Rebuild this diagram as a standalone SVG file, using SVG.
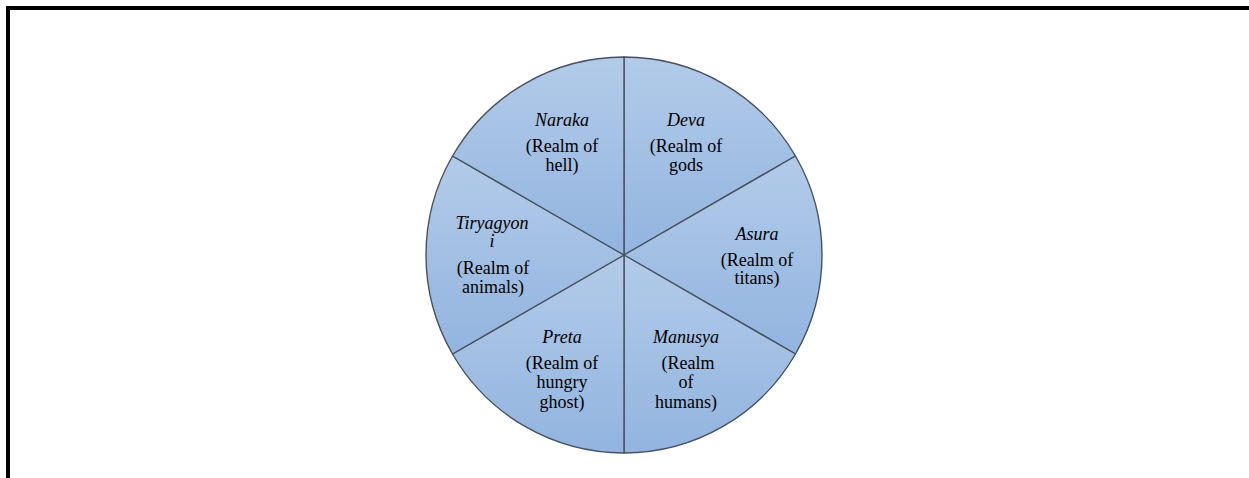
<svg xmlns="http://www.w3.org/2000/svg" width="1249" height="478" viewBox="0 0 1249 478">
  <defs>
    <linearGradient id="g" x1="0" y1="0" x2="0" y2="1">
      <stop offset="0" stop-color="#b3cbe9"/>
      <stop offset="1" stop-color="#92b4df"/>
    </linearGradient>
    <style>
      .w { fill: url(#g); stroke: #46525f; stroke-width: 1.4; stroke-linejoin: round; }
      .t { font-family: "Liberation Serif", "Times New Roman", serif; font-size: 18px; fill: #000; text-anchor: middle; }
      .i { font-style: italic; }
    </style>
  </defs>
  <rect width="1249" height="478" fill="#ffffff"/>
  <g id="frame" fill="#000">
    <rect x="6" y="6" width="1243" height="4"/>
    <rect x="6" y="6" width="4" height="472"/>
  </g>
  <g id="wheel">
    <g id="deva">
      <path class="w" d="M624,255 L624,57 A198,198 0 0 1 795.47,156 Z"/>
      <text class="t i" x="686" y="126">Deva</text>
      <text class="t" x="686" y="152">(Realm of</text>
      <text class="t" x="686" y="171">gods</text>
    </g>
    <g id="asura">
      <path class="w" d="M624,255 L795.47,156 A198,198 0 0 1 795.47,354 Z"/>
      <text class="t i" x="757" y="240">Asura</text>
      <text class="t" x="757" y="266">(Realm of</text>
      <text class="t" x="757" y="284">titans)</text>
    </g>
    <g id="manusya">
      <path class="w" d="M624,255 L795.47,354 A198,198 0 0 1 624,453 Z"/>
      <text class="t i" x="686" y="343">Manusya</text>
      <text class="t" x="688" y="369">(Realm</text>
      <text class="t" x="686" y="388">of</text>
      <text class="t" x="686" y="408">humans)</text>
    </g>
    <g id="preta">
      <path class="w" d="M624,255 L624,453 A198,198 0 0 1 452.53,354 Z"/>
      <text class="t i" x="562" y="343">Preta</text>
      <text class="t" x="562" y="369">(Realm of</text>
      <text class="t" x="562" y="388">hungry</text>
      <text class="t" x="562" y="408">ghost)</text>
    </g>
    <g id="tiryagyoni">
      <path class="w" d="M624,255 L452.53,354 A198,198 0 0 1 452.53,156 Z"/>
      <text class="t i" x="492" y="229">Tiryagyon</text>
      <text class="t i" x="492" y="247">i</text>
      <text class="t" x="493" y="274">(Realm of</text>
      <text class="t" x="493" y="293">animals)</text>
    </g>
    <g id="naraka">
      <path class="w" d="M624,255 L452.53,156 A198,198 0 0 1 624,57 Z"/>
      <text class="t i" x="562" y="126">Naraka</text>
      <text class="t" x="562" y="152">(Realm of</text>
      <text class="t" x="562" y="171">hell)</text>
    </g>
  </g>
</svg>
